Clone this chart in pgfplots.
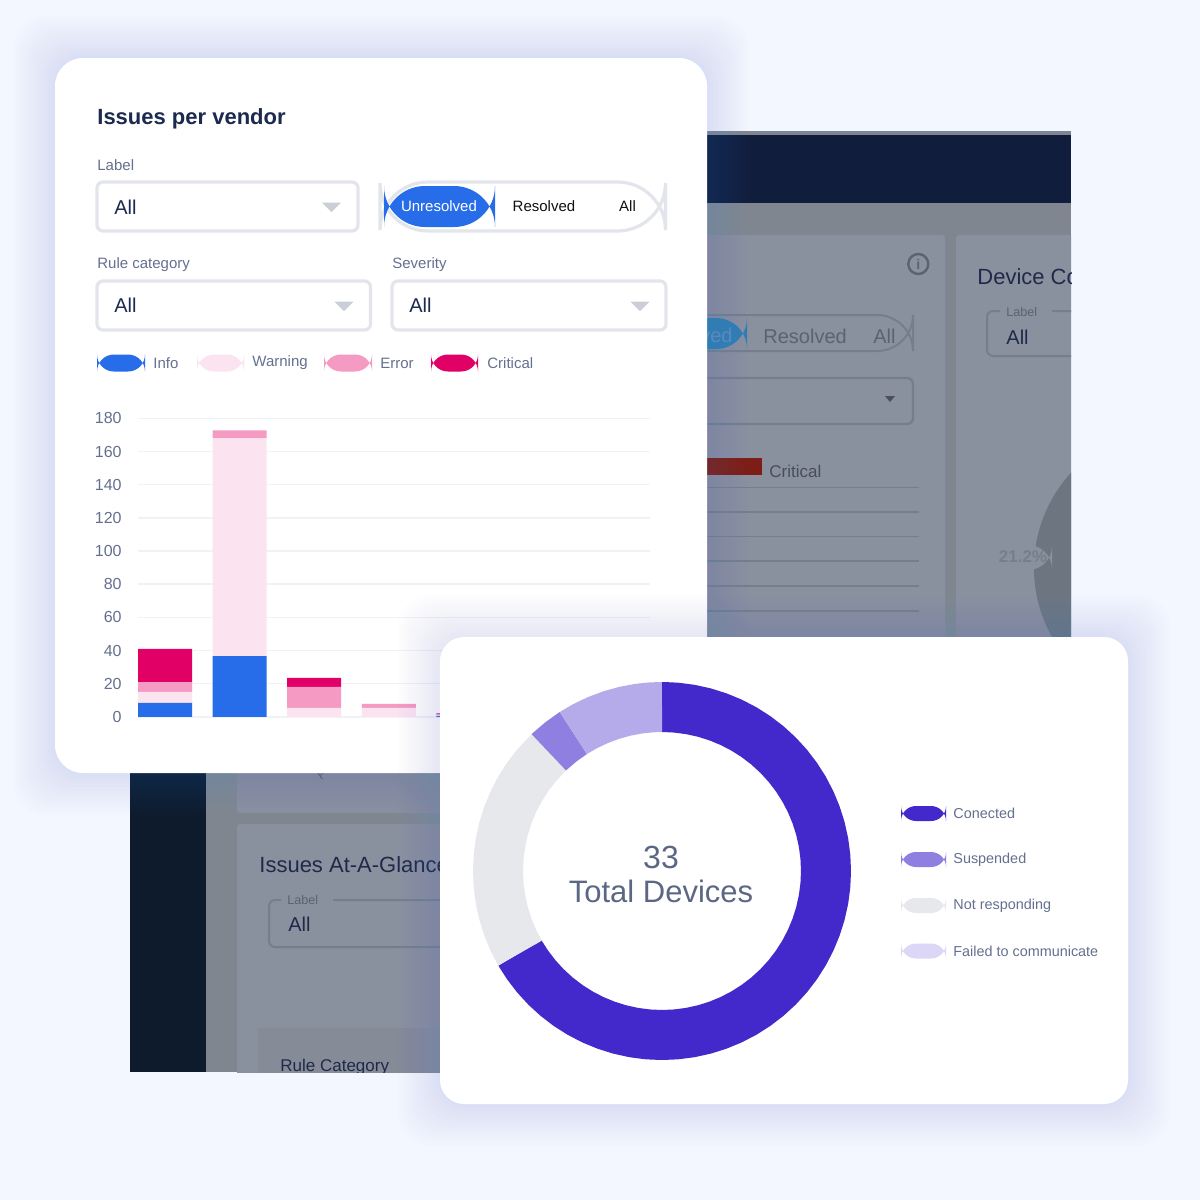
\documentclass[border=0pt]{standalone}
\usepackage{pgfplots}
\pgfplotsset{compat=1.18}
\usepackage{pgfplotstable}
\usepackage{fontspec}
\setmainfont{Liberation Sans}
\definecolor{bgc}{HTML}{F3F7FF}
\definecolor{shadowc}{HTML}{5C86F5}
\definecolor{navy}{HTML}{1B2A4E}
\definecolor{graytxt}{HTML}{657090}
\definecolor{boxline}{HTML}{E3E5EC}
\definecolor{tri}{HTML}{C9CED7}
\definecolor{cinfo}{HTML}{276CE8}
\definecolor{cwarn}{HTML}{FCE3F0}
\definecolor{cerr}{HTML}{F59AC2}
\definecolor{ccrit}{HTML}{E10066}
\definecolor{dconn}{HTML}{4329CB}
\definecolor{dsusp}{HTML}{8F7FE0}
\definecolor{dnot}{HTML}{E7E8EC}
\definecolor{dfail}{HTML}{B5ABEB}
\definecolor{dfaill}{HTML}{DCD7F6}
\definecolor{dmain}{HTML}{80868F}
\definecolor{dpanel}{HTML}{8A919E}
\definecolor{dband}{HTML}{111D3C}
\definecolor{dside}{HTML}{0E1B2D}
\definecolor{dtext}{HTML}{1F2A4A}
\definecolor{dgray}{HTML}{5B6270}
\definecolor{dline}{HTML}{767D8B}
\definecolor{dpie}{HTML}{6D7581}
\definecolor{dpct}{HTML}{767E8C}
\definecolor{dblue}{HTML}{2F7DB4}
\definecolor{dved}{HTML}{5F8DB8}
\definecolor{darrow}{HTML}{4A4F58}
\definecolor{dred}{HTML}{7E1D15}
\definecolor{dcrit}{HTML}{474D59}
\definecolor{dblock}{HTML}{858B97}
\definecolor{nearblack}{HTML}{111111}
\definecolor{centertxt}{HTML}{5B6785}
\definecolor{gridc}{HTML}{F1F2F5}
\newcommand\T[6]{\node[inner sep=0pt,anchor=#1,text=#5,font=\fontsize{#4}{#4}\selectfont] at (#2,#3) {#6};}
\newcommand\Shadow[4]{\foreach \i in {1,...,12}{\fill[shadowc,opacity=0.013,rounded corners=16] ({#1-3.5*\i},{#2-3.5*\i}) rectangle ({#3+3.5*\i},{#4+3.5*\i});}}
\pgfplotstableread{
cat info warning error critical
0 8.4 6.6 5.7 20.3
1 36.6 131.4 4.8 0
2 0 5.4 12.6 5.5
3 0 5.4 2.4 0
4 0.6 0.4 0.4 0.6
}\issues
\begin{document}
\begin{tikzpicture}
\useasboundingbox (0,0) rectangle (600pt,-600pt);
\begin{scope}[x=0.5pt,y=-0.5pt]
\fill[bgc] (0,0) rectangle (1200,1200);
% ---- dashboard behind
\begin{scope}
\clip (130,131) rectangle (1071,1072);
\fill[dmain] (130,131) rectangle (1071,1072);
\fill[dband] (130,135) rectangle (1071,203);
\fill[dside] (130,135) rectangle (206,1072);
\fill[dpanel,rounded corners=1.5] (237,235) rectangle (945,813);
\fill[dpanel,rounded corners=1.5] (956,235) rectangle (1090,1072);
\fill[dpanel,rounded corners=1.5] (237,824) rectangle (1000,1090);
\fill[dpie] (1175,568) circle (141) ;
\fill[dpanel,rounded corners=12] (990,545) rectangle (1052,570);
\T{center}{1023}{557}{8.5}{dpct}{\bfseries 21.2\%}
% toggle
\draw[dline,line width=1,rounded corners=18] (640,315) rectangle (913,351);
\fill[dblue,rounded corners=15.5] (620,318) rectangle (747,349);
\T{base east}{733}{342}{10}{dved}{ved}
\T{base west}{763}{343}{10}{dgray}{Resolved}
\T{base west}{873}{343}{10}{dgray}{All}
\draw[dgray,line width=1.2] (918.3,264) circle (10);
\T{center}{918.3}{264}{7}{dgray}{\bfseries i}
\draw[dline,line width=1.2,rounded corners=3] (600,378) rectangle (913,424);
\fill[darrow] (885,396)--(895,396)--(890,402)--cycle;
\fill[dred] (660,458) rectangle (762,475);
\T{base west}{769}{477}{8.5}{dcrit}{Critical}
\foreach \yy in {487.3,512,536.3,561,585.7,610.7}{\draw[dline,line width=.8] (600,\yy)--(919,\yy);}
\T{base west}{977}{284}{11}{dtext}{Device Co}
\draw[dline,line width=1,rounded corners=3] (1052,311) -- (1090,311) (1090,356) -- (987,356) -- (987,311) -- (1000,311);
\T{west}{1006}{312}{6.3}{dgray}{Label}
\T{base west}{1006}{344}{10}{dtext}{All}
% lower left
\T{base west}{259}{872}{11}{dtext}{Issues At-A-Glance}
\draw[dline,line width=1,rounded corners=3] (333,900) -- (600,900) (600,947) -- (269,947) -- (269,900) -- (281,900);
\T{west}{287}{900}{6.3}{dgray}{Label}
\T{base west}{288}{931}{10}{dtext}{All}
\fill[dblock] (258,1028) rectangle (600,1090);
\T{base west}{280}{1071}{8.5}{dtext}{Rule Category}
\node[rotate=35,text=dgray,font=\fontsize{7}{7}\selectfont,inner sep=0pt] at (322,774) {P};
\end{scope}
% ---- first card
\Shadow{55}{58}{707}{773}
\fill[white,rounded corners=14] (55,58) rectangle (707,773);
\T{base west}{97}{124}{11}{navy}{\bfseries Issues per vendor}
\T{west}{97}{165.5}{7.5}{graytxt}{Label}
\draw[boxline,fill=white,line width=1.6,rounded corners=3] (97,182) rectangle (358,231);
\T{west}{114}{207}{10}{navy}{All}
\fill[tri] (322,202.5)--(341,202.5)--(331.5,212)--cycle;
\draw[boxline,fill=white,line width=1.6,rounded corners=24] (380,182) rectangle (665.5,231);
\fill[cinfo,rounded corners=20.5] (384,186) rectangle (495,227);
\T{center}{439}{206.5}{7.5}{white}{Unresolved}
\T{center}{544}{206.5}{7.5}{nearblack}{Resolved}
\T{center}{627.5}{206.5}{7.5}{nearblack}{All}
\T{west}{97}{264.5}{7.5}{graytxt}{Rule category}
\T{west}{392}{264.5}{7.5}{graytxt}{Severity}
\draw[boxline,fill=white,line width=1.6,rounded corners=3] (97,281) rectangle (370.5,330);
\T{west}{114}{305.5}{10}{navy}{All}
\fill[tri] (334.5,301.5)--(353.5,301.5)--(344,311)--cycle;
\draw[boxline,fill=white,line width=1.6,rounded corners=3] (392,281) rectangle (666,330);
\T{west}{409}{305.5}{10}{navy}{All}
\fill[tri] (630.5,301.5)--(649.5,301.5)--(640,311)--cycle;
\fill[cinfo,rounded corners=8.5] (97,354.5) rectangle (145,371.5);
\T{west}{153}{363}{7.5}{graytxt}{Info}
\fill[cwarn,rounded corners=8.5] (197,354.5) rectangle (244,371.5);
\T{west}{252}{363}{7.5}{graytxt}{Warning}
\fill[cerr,rounded corners=8.5] (324,354.5) rectangle (372,371.5);
\T{west}{380}{363}{7.5}{graytxt}{Error}
\fill[ccrit,rounded corners=8.5] (431,354.5) rectangle (478,371.5);
\T{west}{487}{363}{7.5}{graytxt}{Critical}
\end{scope}
% ---- stacked bars
\begin{axis}[
  at={(69pt,-358.4pt)},anchor=south west,
  scale only axis,width=256pt,height=149.2pt,
  ybar stacked,bar width=27pt,
  xmin=-0.362,xmax=6.5,ymin=0,ymax=180,
  xtick=\empty,ytick={0,20,...,180},
  ymajorgrids,grid style={gridc,line width=.7pt},
  axis line style={draw=none},
  major tick length=0pt,
  /pgf/number format/assume math mode=true,
  yticklabel style={font=\fontsize{8}{8}\selectfont,text=graytxt,inner sep=0pt,anchor=east,xshift=-8pt},
  clip=false,
]
\addplot[draw=none,fill=cinfo] table[x=cat,y=info]{\issues};
\addplot[draw=none,fill=cwarn] table[x=cat,y=warning]{\issues};
\addplot[draw=none,fill=cerr] table[x=cat,y=error]{\issues};
\addplot[draw=none,fill=ccrit] table[x=cat,y=critical]{\issues};
\end{axis}
% ---- second card
\begin{scope}[x=0.5pt,y=-0.5pt]
\Shadow{440}{637}{1128}{1104}
\fill[white,rounded corners=12] (440,637) rectangle (1128,1104);
\T{center}{661}{857}{16}{centertxt}{33}
\T{center}{661}{891}{15.5}{centertxt}{Total Devices}
\fill[dconn,rounded corners=7.5] (901,806) rectangle (946,821);
\T{west}{953}{813.5}{7.2}{graytxt}{Conected}
\fill[dsusp,rounded corners=7.5] (901,852) rectangle (946,867);
\T{west}{953}{859.5}{7.2}{graytxt}{Suspended}
\fill[dnot,rounded corners=7.5] (901,898) rectangle (946,913);
\T{west}{953}{905.5}{7.2}{graytxt}{Not responding}
\fill[dfaill,rounded corners=7.5] (901,943.5) rectangle (946,958.5);
\T{west}{953}{951}{7.2}{graytxt}{Failed to communicate}
\end{scope}
% ---- donut: 33 devices = 22 connected, 7 not responding, 1 suspended, 3 failed (angle, radius)
\begin{axis}[
  at={(331pt,-435.5pt)},anchor=center,
  scale only axis,width=200pt,height=200pt,
  xmin=-200,xmax=200,ymin=-200,ymax=200,
  hide axis,clip=false,
]
\addplot[dconn,line width=25pt,line join=round,data cs=polar] coordinates {
(90,164)(89.5,164)(85,164)(80,164)(75,164)(70,164)(65,164)(60,164)(55,164)(50,164)(45,164)(40,164)(35,164)(30,164)(25,164)(20,164)(15,164)(10,164)(5,164)(0,164)
(-5,164)(-10,164)(-15,164)(-20,164)(-25,164)(-30,164)(-35,164)(-40,164)(-45,164)(-50,164)(-55,164)(-60,164)(-65,164)(-70,164)(-75,164)(-80,164)(-85,164)(-90,164)
(-95,164)(-100,164)(-105,164)(-110,164)(-115,164)(-120,164)(-125,164)(-130,164)(-135,164)(-140,164)(-145,164)(-149.5,164)(-150,164)};
\addplot[dnot,line width=25pt,line join=round,data cs=polar] coordinates {
(210,164)(209.5,164)(205,164)(200,164)(195,164)(190,164)(185,164)(180,164)(175,164)(170,164)(165,164)(160,164)(155,164)(150,164)(145,164)(140,164)(134.1,164)(133.64,164)};
\addplot[dsusp,line width=25pt,line join=round,data cs=polar] coordinates {
(133.64,164)(133.2,164)(128,164)(123.2,164)(122.73,164)};
\addplot[dfail,line width=25pt,line join=round,data cs=polar] coordinates {
(122.73,164)(122.2,164)(118,164)(113,164)(108,164)(103,164)(98,164)(94,164)(90.5,164)(90,164)};
\end{axis}
\end{tikzpicture}
\end{document}
